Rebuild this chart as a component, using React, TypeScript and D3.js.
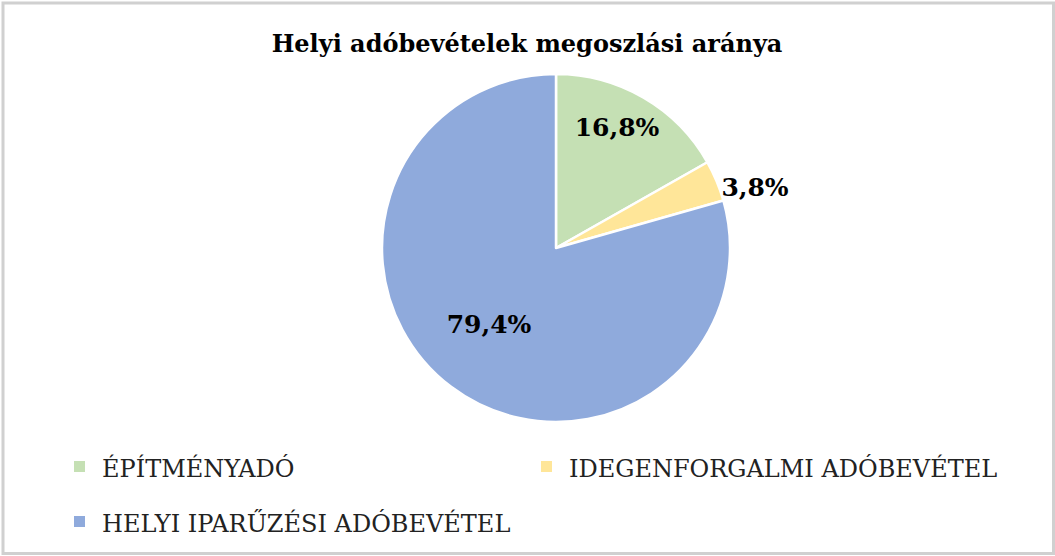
import React from "react";
import * as d3 from "d3";

const categories = ["ÉPÍTMÉNYADÓ", "IDEGENFORGALMI ADÓBEVÉTEL", "HELYI IPARŰZÉSI ADÓBEVÉTEL"];
const values = [16.8, 3.8, 79.4];
const labels = ["16,8%", "3,8%", "79,4%"];
const colors = ["#c5e0b4", "#ffe699", "#8faadc"];
const title = "Helyi adóbevételek megoszlási aránya";

const W = 1055;
const H = 556;
const FONT = "'DejaVu Serif', serif";

export default function App() {
  const cx = 556;
  const cy = 248;
  const r = 174;
  const pie = d3.pie<number>().sort(null).value((d) => d)(values);
  const arc = d3.arc<d3.PieArcDatum<number>>().innerRadius(0).outerRadius(r);
  const labelPos: [number, number][] = [
    [617, 127],
    [755, 187],
    [489, 324],
  ];
  const legend = [
    { x: 74, y: 461 },
    { x: 541, y: 461 },
    { x: 74, y: 516 },
  ];
  return (
    <svg width={W} height={H} style={{ display: "block", position: "absolute", left: 0, top: 0 }}>
      <rect x={0} y={0} width={W} height={H} fill="#fff" />
      <rect x={3} y={3} width={W - 4.5} height={H - 5.5} fill="none" stroke="#d0d0d0" strokeWidth={3} />
      <text x={527} y={52} textAnchor="middle" fontFamily={FONT} fontWeight="bold" fontSize={24} fill="#000">
        {title}
      </text>
      <g transform={`translate(${cx},${cy})`}>
        {pie.map((p, i) => (
          <path key={i} d={arc(p) || ""} fill={colors[i]} stroke="#fff" strokeWidth={2.5} strokeLinejoin="round" />
        ))}
      </g>
      {pie.map((p, i) => (
        <text
          key={i}
          x={labelPos[i][0]}
          y={labelPos[i][1]}
          textAnchor="middle"
          dominantBaseline="central"
          fontFamily={FONT}
          fontWeight="bold"
          fontSize={25}
          fill="#000"
        >
          {labels[i]}
        </text>
      ))}
      {categories.map((c, i) => (
        <g key={i}>
          <rect x={legend[i].x} y={legend[i].y} width={11} height={11} fill={colors[i]} />
          <text x={legend[i].x + 28} y={legend[i].y + 16} fontFamily={FONT} fontSize={24} fill="#222">
            {c}
          </text>
        </g>
      ))}
    </svg>
  );
}
